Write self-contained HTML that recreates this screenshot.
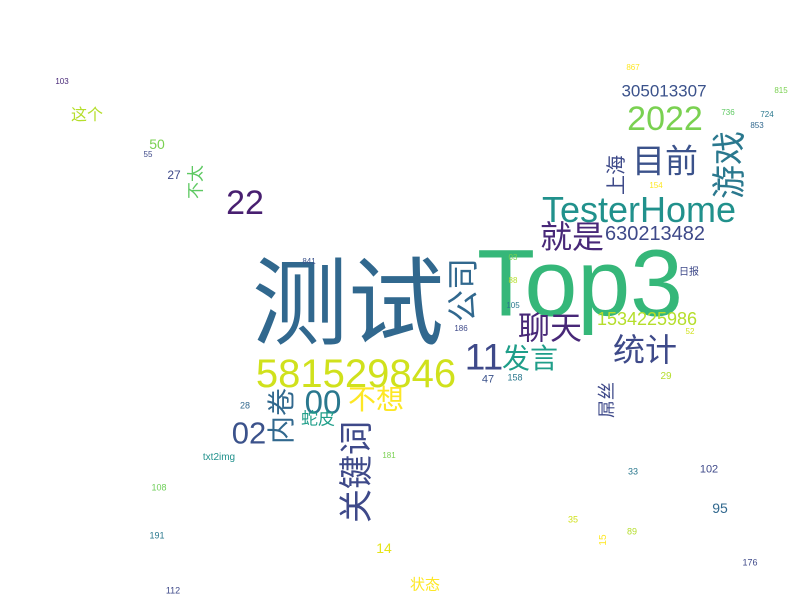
<!DOCTYPE html>
<html><head><meta charset="utf-8">
<style>
html,body{margin:0;padding:0;background:#fff;}
#cloud{position:relative;width:800px;height:599px;overflow:hidden;background:#fff;font-family:"Liberation Sans","Noto Sans CJK SC",sans-serif;}
#cloud span{position:absolute;white-space:nowrap;line-height:1;transform:translate(-50%,-50%);}
#cloud span.r{transform:translate(-50%,-50%) rotate(-90deg);}
</style></head><body>
<div id="cloud">
<span style="left:348px;top:305px;font-size:96px;color:#31688e">测试</span>
<span style="left:580px;top:284px;font-size:95px;color:#35b779">Top3</span>
<span style="left:356px;top:374px;font-size:40px;color:#d0e11c">581529846</span>
<span style="left:639px;top:210px;font-size:36px;color:#21918c">TesterHome</span>
<span style="left:665px;top:119px;font-size:34px;color:#7ad151">2022</span>
<span style="left:664px;top:91px;font-size:17px;color:#3b528b">305013307</span>
<span style="left:665px;top:161px;font-size:33px;color:#3b528b">目前</span>
<span class="r" style="left:730px;top:165px;font-size:34px;color:#2a788e">游戏</span>
<span class="r" style="left:617px;top:175px;font-size:20px;color:#3e4a89">上海</span>
<span style="left:572px;top:237px;font-size:32px;color:#482878">就是</span>
<span style="left:655px;top:234px;font-size:20px;color:#3e4989">630213482</span>
<span class="r" style="left:463px;top:290px;font-size:32px;color:#31688e">公司</span>
<span style="left:550px;top:328px;font-size:32px;color:#482878">聊天</span>
<span style="left:647px;top:319px;font-size:18px;color:#b5de2b">1534225986</span>
<span style="left:645px;top:350px;font-size:32px;color:#3e4a89">统计</span>
<span style="left:484px;top:357px;font-size:37px;color:#3e4989">11</span>
<span style="left:530px;top:359px;font-size:28px;color:#1f9e89">发言</span>
<span style="left:323px;top:402px;font-size:33px;color:#2a788e">00</span>
<span style="left:376px;top:400px;font-size:28px;color:#fde725">不想</span>
<span class="r" style="left:282px;top:416px;font-size:28px;color:#31688e">内卷</span>
<span style="left:249px;top:433px;font-size:31px;color:#3b528b">02</span>
<span style="left:318px;top:419px;font-size:17px;color:#1f9e89">蛇皮</span>
<span class="r" style="left:357px;top:472px;font-size:34px;color:#3e4989">关键词</span>
<span style="left:245px;top:406px;font-size:9px;color:#31688e">28</span>
<span style="left:488px;top:380px;font-size:11px;color:#3b528b">47</span>
<span style="left:515px;top:378px;font-size:9px;color:#2a788e">158</span>
<span style="left:666px;top:377px;font-size:10px;color:#b5de2b">29</span>
<span class="r" style="left:607px;top:400px;font-size:18px;color:#3e4989">屌丝</span>
<span style="left:219px;top:458px;font-size:10px;color:#21918c">txt2img</span>
<span style="left:389px;top:456px;font-size:8px;color:#7ad151">181</span>
<span style="left:159px;top:488px;font-size:9px;color:#6ece58">108</span>
<span style="left:633px;top:472px;font-size:9px;color:#2a788e">33</span>
<span style="left:709px;top:470px;font-size:11px;color:#3e4989">102</span>
<span style="left:720px;top:508px;font-size:14px;color:#31688e">95</span>
<span style="left:573px;top:520px;font-size:9px;color:#d0e11c">35</span>
<span class="r" style="left:604px;top:540px;font-size:10px;color:#fde725">15</span>
<span style="left:632px;top:532px;font-size:9px;color:#b5de2b">89</span>
<span style="left:384px;top:548px;font-size:14px;color:#e5e419">14</span>
<span style="left:157px;top:536px;font-size:9px;color:#2a788e">191</span>
<span style="left:750px;top:563px;font-size:9px;color:#3e4989">176</span>
<span style="left:425px;top:585px;font-size:15px;color:#fde725">状态</span>
<span style="left:173px;top:591px;font-size:9px;color:#3e4989">112</span>
<span style="left:62px;top:82px;font-size:8px;color:#482878">103</span>
<span style="left:87px;top:116px;font-size:16px;color:#b5de2b">这个</span>
<span style="left:157px;top:144px;font-size:14px;color:#7ad151">50</span>
<span style="left:148px;top:155px;font-size:8px;color:#3e4989">55</span>
<span style="left:174px;top:175px;font-size:12px;color:#3e4989">27</span>
<span class="r" style="left:196px;top:182px;font-size:17px;color:#5ec962">不太</span>
<span style="left:245px;top:203px;font-size:34px;color:#481f70">22</span>
<span style="left:309px;top:262px;font-size:8px;color:#3b528b">841</span>
<span style="left:633px;top:68px;font-size:8px;color:#fde725">867</span>
<span style="left:781px;top:91px;font-size:8px;color:#7ad151">815</span>
<span style="left:728px;top:113px;font-size:8px;color:#5ec962">736</span>
<span style="left:767px;top:115px;font-size:8px;color:#2a788e">724</span>
<span style="left:757px;top:126px;font-size:8px;color:#31688e">853</span>
<span style="left:656px;top:186px;font-size:8px;color:#fde725">154</span>
<span style="left:513px;top:258px;font-size:8px;color:#7ad151">03</span>
<span style="left:689px;top:273px;font-size:10px;color:#3e4989">日报</span>
<span style="left:513px;top:281px;font-size:8px;color:#b5de2b">88</span>
<span style="left:690px;top:332px;font-size:8px;color:#d0e11c">52</span>
<span style="left:513px;top:306px;font-size:8px;color:#2a788e">105</span>
<span style="left:461px;top:329px;font-size:8px;color:#3e4989">186</span>
</div>
</body></html>
